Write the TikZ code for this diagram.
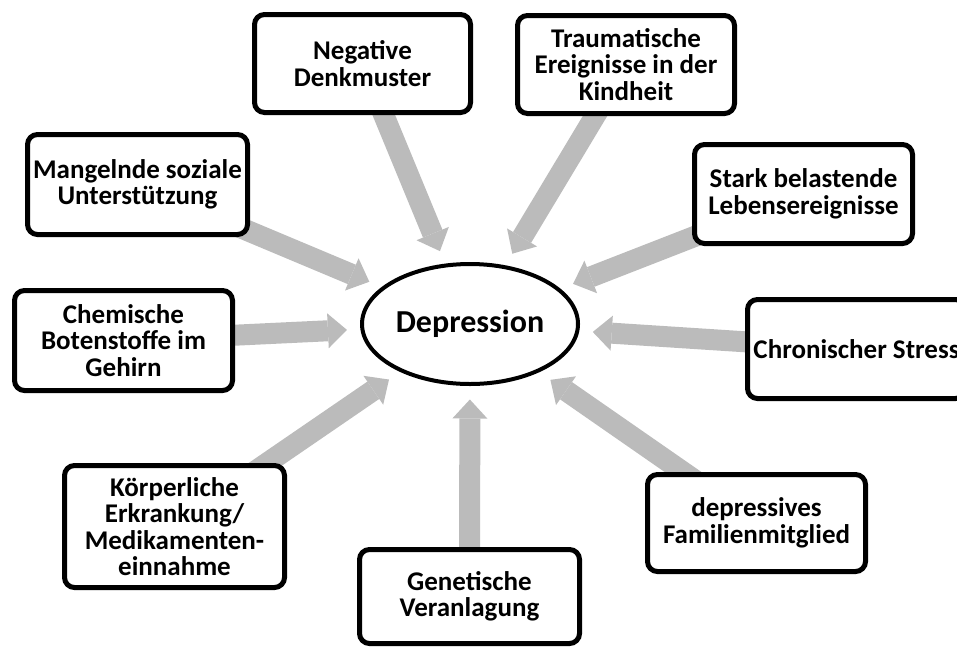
\documentclass[tikz,border=0pt]{standalone}
\usepackage{fontspec}
\setmainfont{Carlito}
\usetikzlibrary{arrows.meta,shapes.geometric}
\definecolor{arrgray}{RGB}{187,187,187}
\pgfdeclarelayer{bg}
\pgfsetlayers{bg,main}
\tikzset{
  box/.style={draw, line width=5pt, rounded corners=10pt, fill=white, align=center,
    inner sep=0pt, font=\bfseries\fontsize{27}{26.5}\selectfont},
  centre/.style={ellipse, draw, line width=4pt, fill=white, inner sep=0pt,
    minimum width=216pt, minimum height=120pt, font=\bfseries\fontsize{32}{32}\selectfont},
  bigarrow/.style={color=arrgray, line width=21pt,
    -{Triangle[width=35pt,length=19pt,line width=0pt]}, shorten >=13.5pt},
}
\begin{document}
\begin{tikzpicture}[x=1pt,y=-1pt]
\useasboundingbox (0,0) rectangle (957,648);
\clip (0,0) rectangle (957,648);
\node[centre] (D) at (470,324) {Depression};
\node[box, minimum width=216pt, minimum height=98pt] (n1) at (362.5,63.5) {Negative\\Denkmuster};
\node[box, minimum width=217pt, minimum height=98pt] (n2) at (626,64.5) {Traumatische\\Ereignisse in der\\Kindheit};
\node[box, minimum width=220pt, minimum height=100pt] (n3) at (137.5,184.5) {Mangelnde soziale\\Unterstützung};
\node[box, minimum width=218pt, minimum height=99pt] (n4) at (803.5,194) {Stark belastende\\Lebensereignisse};
\node[box, minimum width=218pt, minimum height=100pt] (n5) at (123.5,340.5) {Chemische\\Botenstoffe im\\Gehirn};
\node[box, minimum width=218pt, minimum height=99pt] (n6) at (856.5,349) {Chronischer Stress};
\node[box, minimum width=220pt, minimum height=122pt] (n7) at (174.5,526.5) {Körperliche\\Erkrankung/\\Medikamenten-\\einnahme};
\node[box, minimum width=220pt, minimum height=94pt] (n8) at (469.5,596.5) {Genetische\\Veranlagung};
\node[box, minimum width=218pt, minimum height=97pt] (n9) at (756.5,523) {depressives\\Familienmitglied};
\begin{pgfonlayer}{bg}
\foreach \n in {n1,n2,n3,n4,n5,n6,n7,n8,n9}
  \draw[bigarrow] (\n.center) -- (D);
\end{pgfonlayer}
\end{tikzpicture}
\end{document}
